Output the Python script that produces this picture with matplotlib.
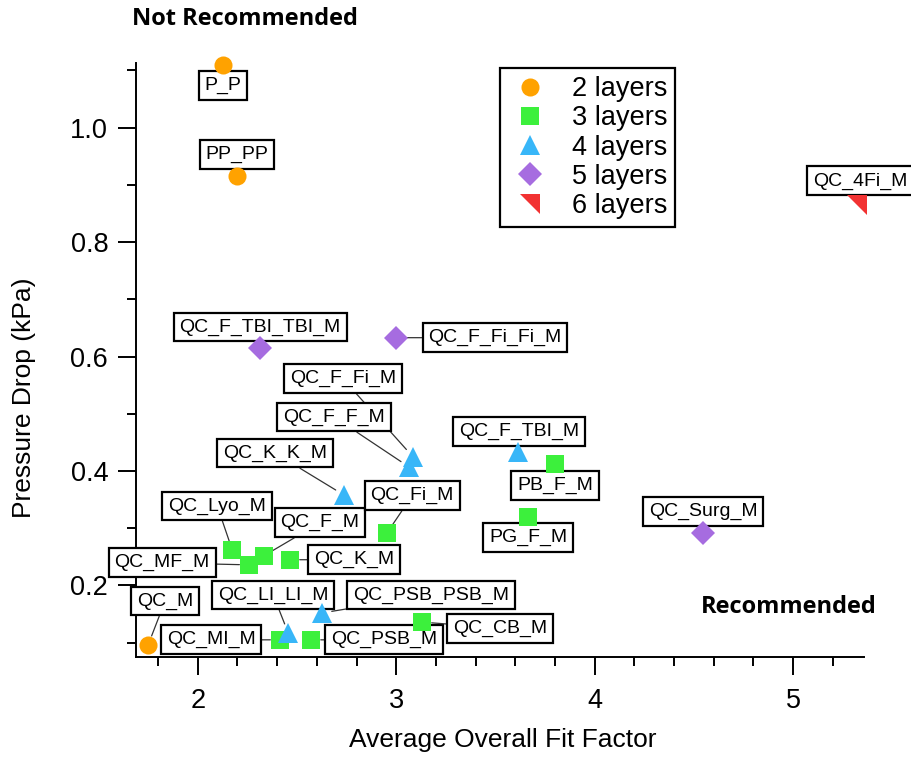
import matplotlib.pyplot as plt
from matplotlib.ticker import MultipleLocator

plt.rcParams['font.family'] = ['Liberation Sans', 'DejaVu Sans']

# fit factor vs. pressure drop for each filter combination, grouped by layer count
names_2 = ['P_P', 'PP_PP', 'QC_M']
fit_2 = [2.127, 2.199, 1.750]
dp_2 = [1.110, 0.916, 0.096]

names_3 = ['QC_Lyo_M', 'QC_MF_M', 'QC_F_M', 'QC_K_M', 'QC_Fi_M',
           'QC_MI_M', 'QC_PSB_M', 'QC_CB_M', 'PB_F_M', 'PG_F_M']
fit_3 = [2.174, 2.259, 2.334, 2.465, 2.954, 2.415, 2.571, 3.130, 3.801, 3.664]
dp_3 = [0.262, 0.236, 0.252, 0.245, 0.292, 0.105, 0.105, 0.136, 0.412, 0.320]

names_4 = ['QC_F_Fi_M', 'QC_F_F_M', 'QC_K_K_M', 'QC_F_TBI_M',
           'QC_PSB_PSB_M', 'QC_LI_LI_M']
fit_4 = [3.084, 3.065, 2.737, 3.614, 2.627, 2.456]
dp_4 = [0.425, 0.407, 0.358, 0.433, 0.152, 0.117]

names_5 = ['QC_F_TBI_TBI_M', 'QC_F_Fi_Fi_M', 'QC_Surg_M']
fit_5 = [2.315, 2.999, 4.546]
dp_5 = [0.615, 0.633, 0.292]

names_6 = ['QC_4Fi_M']
fit_6 = [5.322]
dp_6 = [0.865]

layer_labels = ['2 layers', '3 layers', '4 layers', '5 layers', '6 layers']

# label box offset from its marker in pixels, and whether a leader line is drawn
label_offsets = {
    'P_P': (0, -21, False), 'PP_PP': (0, 21, False), 'QC_M': (17, 44, True),
    'QC_Lyo_M': (-15, 44, True), 'QC_MF_M': (-87, 2, True),
    'QC_F_M': (56, 33, True), 'QC_K_M': (64, 0, True),
    'QC_Fi_M': (25, 37, True), 'QC_MI_M': (-69, 0, True),
    'QC_PSB_M': (73, 0, True), 'QC_CB_M': (78, -6, True),
    'PB_F_M': (0, -21, False), 'PG_F_M': (0, -21, False),
    'QC_F_Fi_M': (-70, 78, True), 'QC_F_F_M': (-75, 50, True),
    'QC_K_K_M': (-69, 42, True), 'QC_F_TBI_M': (1, 21, False),
    'QC_PSB_PSB_M': (109, 18, True), 'QC_LI_LI_M': (-15, 38, True),
    'QC_F_TBI_TBI_M': (0, 21, False), 'QC_F_Fi_Fi_M': (99, 0, True),
    'QC_Surg_M': (0, 21, False), 'QC_4Fi_M': (3, 24, False),
}

corner_tri = [(-1, 1), (1, 1), (1, -1)]
styles = [
    ('o', '#FFA200', 13),
    ('s', '#3CF03C', 12.5),
    ('^', '#38B6F8', 14.5),
    ('D', '#A66CE0', 12.5),
    (corner_tri, '#F23232', 15),
]
groups = [(names_2, fit_2, dp_2), (names_3, fit_3, dp_3), (names_4, fit_4, dp_4),
          (names_5, fit_5, dp_5), (names_6, fit_6, dp_6)]

fig = plt.figure(figsize=(9.12, 7.57), dpi=100)
ax = fig.add_axes([136 / 912, 100 / 757, 728 / 912, 594 / 757])

for (names, fit, dp), (mk, col, ms), lab in zip(groups, styles, layer_labels):
    ax.plot(fit, dp, linestyle='none', marker=mk, color=col, markersize=ms,
            markeredgewidth=0, label=lab, zorder=5, clip_on=False)
    for name, x, y in zip(names, fit, dp):
        dx, dy, leader = label_offsets[name]
        arrow = None
        if leader:
            arrow = dict(arrowstyle='-', color='#333333', lw=0.9,
                         shrinkA=0, shrinkB=7)
        ax.annotate(name, xy=(x, y), xytext=(dx, dy), textcoords='offset pixels',
                    ha='center', va='center', fontsize=14, zorder=3,
                    annotation_clip=False,
                    bbox=dict(boxstyle='square,pad=0.3', fc='white',
                              ec='black', lw=1.6),
                    arrowprops=arrow)

ax.set_xlim(1.689, 5.357)
ax.set_ylim(0.075, 1.113)
ax.set_xticks([2, 3, 4, 5])
ax.set_yticks([0.2, 0.4, 0.6, 0.8, 1.0])
ax.xaxis.set_minor_locator(MultipleLocator(0.2))
ax.yaxis.set_minor_locator(MultipleLocator(0.1))
ax.tick_params(which='major', length=13, width=1.4, labelsize=19.5)
ax.tick_params(which='minor', length=6.5, width=1.4)
ax.tick_params(axis='x', which='major', pad=9)
ax.tick_params(axis='y', which='major', pad=7)
for side in ['top', 'right']:
    ax.spines[side].set_visible(False)
for side in ['left', 'bottom']:
    ax.spines[side].set_linewidth(1.4)

ax.set_xlabel('Average Overall Fit Factor', fontsize=19)
ax.set_ylabel('Pressure Drop (kPa)', fontsize=19)
ax.xaxis.set_label_coords((503 - 136) / 728, -0.119)
ax.yaxis.set_label_coords(-0.137, (657 - 398) / 594)

leg = ax.legend(loc='upper left', bbox_to_anchor=(500 / 912, 1 - 68 / 757),
                bbox_transform=fig.transFigure, fontsize=19.5, frameon=True,
                fancybox=False, framealpha=1, edgecolor='black',
                borderpad=0.3, labelspacing=0.12, handlelength=1.6,
                handletextpad=0.75, borderaxespad=0)
leg.get_frame().set_linewidth(1.6)

fig.text(245 / 912, 1 - 19 / 757, 'Not Recommended', family='Open Sans',
         fontweight='bold', fontsize=17, ha='center', va='center')
fig.text(789 / 912, 1 - 607 / 757, 'Recommended', family='Open Sans',
         fontweight='bold', fontsize=17, ha='center', va='center')

fig.savefig('out.png', dpi=100)
